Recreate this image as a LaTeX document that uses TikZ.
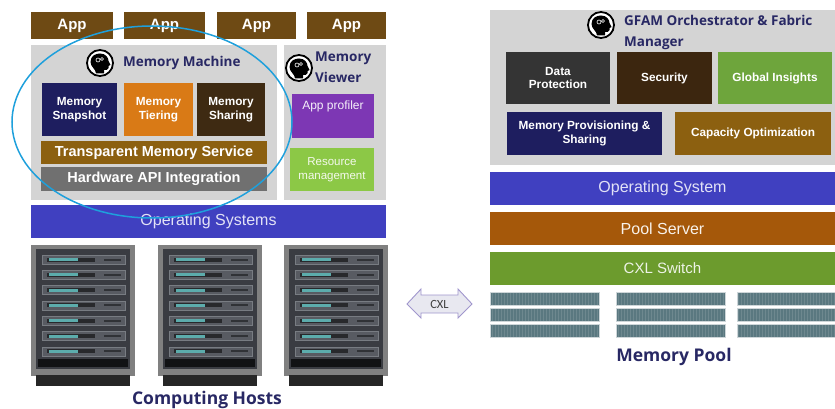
\documentclass[tikz,border=0pt]{standalone}
\usepackage{fontspec}
\setmainfont{Liberation Sans}
\newfontfamily\titlefont{Open Sans}
\newfontfamily\labelfont{Carlito}
\usetikzlibrary{calc,patterns}

\definecolor{appbrown}{RGB}{110,74,20}
\definecolor{panelgray}{RGB}{212,212,212}
\definecolor{navy}{RGB}{30,30,95}
\definecolor{tierorange}{RGB}{217,122,22}
\definecolor{sharebrown}{RGB}{62,42,18}
\definecolor{servbrown}{RGB}{140,96,16}
\definecolor{hwgray}{RGB}{112,112,112}
\definecolor{profpurple}{RGB}{125,55,180}
\definecolor{resgreen}{RGB}{140,200,70}
\definecolor{osblue}{RGB}{64,64,192}
\definecolor{ringblue}{RGB}{30,160,220}
\definecolor{titlenavy}{RGB}{40,40,100}
\definecolor{dpgray}{RGB}{52,52,52}
\definecolor{secbrown}{RGB}{60,38,15}
\definecolor{gigreen}{RGB}{110,165,60}
\definecolor{poolbrown}{RGB}{165,88,10}
\definecolor{switchgreen}{RGB}{108,155,45}
\definecolor{modteal}{RGB}{90,120,128}
\definecolor{rackgray}{RGB}{128,128,128}
\definecolor{rackdark}{RGB}{58,60,66}
\definecolor{slotgray}{RGB}{88,91,98}
\definecolor{slotline}{RGB}{120,124,130}
\definecolor{ledteal}{RGB}{92,172,172}

\begin{document}
\begin{tikzpicture}[x=1pt,y=-1pt,
  appbox/.style={fill=appbrown,text=white,inner sep=0,font=\fontsize{15}{15}\bfseries},
  tile/.style={text=white,inner sep=0,align=center,font=\fontsize{11.8}{13.5}\bfseries},
  bar/.style={inner sep=0,font=\fontsize{16}{16}\selectfont},
  title/.style={text=titlenavy,inner sep=0,font=\fontsize{13.5}{21}\titlefont\bfseries}]
\useasboundingbox (0,0) rectangle (835,409);
\fill[white] (0,0) rectangle (835,409);

% apps on top
\node[appbox,minimum width=82,minimum height=27] (app1) at (72,25.5) {App};
\node[appbox,minimum width=81,minimum height=27] (app2) at (164.5,25.5) {App};
\node[appbox,minimum width=79,minimum height=27] (app3) at (256.5,25.5) {App};
\node[appbox,minimum width=79,minimum height=27] (app4) at (346.5,25.5) {App};

% memory machine
\fill[panelgray] (31,45) rectangle (277,200);
\fill[panelgray] (284,45) rectangle (386,200);
\begin{scope}[shift={(100,63)}] %brain
  \draw[line width=1.8,fill=white] (0,0) circle (13);
  \fill[black] (-4,10.5) .. controls (-4,6) and (-9.5,4) .. (-9.5,-1) .. controls (-9.5,-7.5) and (-4,-9.5) .. (0,-9.5) .. controls (6,-9.5) and (8.5,-5) .. (8.5,-2) -- (10.5,2) -- (8.5,3) -- (8.5,5) .. controls (8.5,7) and (6,7) .. (4,7) -- (4,10.5) -- cycle;
  \draw[white,line width=0.6] (-2,-3) circle (2) (2,-4) circle (1.5);
\end{scope}
\node[title,anchor=west] (mm) at (123,63) {Memory Machine};
\node[tile,fill=navy,minimum width=75,minimum height=53] (snap) at (79.5,109.5) {Memory\\Snapshot};
\node[tile,fill=tierorange,minimum width=69,minimum height=53] (tier) at (158.5,109.5) {Memory\\Tiering};
\node[tile,fill=sharebrown,minimum width=68,minimum height=53] (share) at (231,109.5) {Memory\\Sharing};
\node[tile,fill=servbrown,minimum width=226,minimum height=23,font=\fontsize{14.5}{15}\bfseries] (tms) at (154,152.5) {Transparent Memory Service};
\node[tile,fill=hwgray,minimum width=226,minimum height=24,font=\fontsize{14.5}{15}\bfseries] (hw) at (154,179) {Hardware API Integration};

% memory viewer
\begin{scope}[shift={(299,68)}] %brain
  \draw[line width=1.8,fill=white] (0,0) circle (13);
  \fill[black] (-4,10.5) .. controls (-4,6) and (-9.5,4) .. (-9.5,-1) .. controls (-9.5,-7.5) and (-4,-9.5) .. (0,-9.5) .. controls (6,-9.5) and (8.5,-5) .. (8.5,-2) -- (10.5,2) -- (8.5,3) -- (8.5,5) .. controls (8.5,7) and (6,7) .. (4,7) -- (4,10.5) -- cycle;
  \draw[white,line width=0.6] (-2,-3) circle (2) (2,-4) circle (1.5);
\end{scope}
\node[title,anchor=west,align=left] (mv) at (315,67.5) {Memory\\Viewer};
\fill[profpurple] (292,94) rectangle (374,138);
\node[text=white!92!profpurple,inner sep=0,font=\fontsize{12}{12}\selectfont] (prof) at (333,106) {App profiler};
\node[fill=resgreen,text=white!90!resgreen,inner sep=0,align=center,minimum width=84,minimum height=43,font=\fontsize{11.5}{14}\selectfont] (res) at (332,169.5) {Resource\\management};

\node[bar,fill=osblue,text=white!85!osblue,minimum width=355,minimum height=33] (os) at (208.5,221.5) {Operating Systems};

% racks
\foreach \rx/\rn in {31/r1,158/r2,284/r3}{
\begin{scope}[shift={(\rx,245)}]
  \fill[rackgray] (0,0) rectangle (104,131);
  \fill[rackdark] (5,4) rectangle (99,124);
  \foreach \i in {0,...,6}{
    \draw[slotline,fill=slotgray,line width=0.6] (11,{10+15.3*\i}) rectangle (94,{19+15.3*\i});
    \fill[black!55!slotgray] (16,{12.5+15.3*\i}) rectangle (64,{16.5+15.3*\i});
    \fill[ledteal] (18,{13+15.3*\i}) rectangle (47,{16+15.3*\i});
    \fill[black!45!slotgray] (73,{13.5+15.3*\i}) rectangle (90,{15.5+15.3*\i});
  }
  \fill[black!70!rackdark] (7,114) rectangle (97,122);
  \fill[black!85] (5,130) rectangle (99,141);
  \coordinate (\rn) at (52,0);
\end{scope}
}
\node[title,font=\fontsize{17.5}{18}\titlefont\bfseries] (hosts) at (207,400) {Computing Hosts};

% cxl link
\draw[line width=0.9,draw={rgb,255:red,160;green,150;blue,205},fill={rgb,255:red,232;green,232;blue,240}]
  (407,304) -- (421,289) -- (421,295) -- (458,295) -- (458,289) -- (472,304) -- (458,318) -- (458,313) -- (421,313) -- (421,318) -- cycle;
\node[inner sep=0,text=black!75,font=\fontsize{12.5}{12}\labelfont] (cxl) at (439.5,304) {CXL};

% gfam orchestrator
\fill[panelgray] (490,10) rectangle (835,165);
\begin{scope}[shift={(601,25)}] %brain
  \draw[line width=1.8,fill=white] (0,0) circle (13);
  \fill[black] (-4,10.5) .. controls (-4,6) and (-9.5,4) .. (-9.5,-1) .. controls (-9.5,-7.5) and (-4,-9.5) .. (0,-9.5) .. controls (6,-9.5) and (8.5,-5) .. (8.5,-2) -- (10.5,2) -- (8.5,3) -- (8.5,5) .. controls (8.5,7) and (6,7) .. (4,7) -- (4,10.5) -- cycle;
  \draw[white,line width=0.6] (-2,-3) circle (2) (2,-4) circle (1.5);
\end{scope}
\node[title,anchor=west,align=left] (gfam) at (624,32.5) {GFAM Orchestrator \& Fabric\\Manager};
\node[tile,fill=dpgray,minimum width=104,minimum height=52] (dp) at (558,78) {Data\\Protection};
\node[tile,fill=secbrown,minimum width=95,minimum height=52] (sec) at (664.5,78) {Security};
\node[tile,fill=gigreen,minimum width=114,minimum height=52] (gi) at (775,78) {Global Insights};
\node[tile,fill=navy,minimum width=155,minimum height=43] (prov) at (584.5,133.5) {Memory Provisioning \&\\Sharing};
\node[tile,fill=servbrown,minimum width=156,minimum height=43] (cap) at (753,133.5) {Capacity Optimization};

% pool stack
\node[bar,fill=osblue,text=white!85!osblue,minimum width=345,minimum height=33] (pos) at (662.5,188.5) {Operating System};
\node[bar,fill=poolbrown,text=white!92!poolbrown,minimum width=345,minimum height=33] (pool) at (662.5,228.5) {Pool Server};
\node[bar,fill=switchgreen,text=white!88!switchgreen,minimum width=345,minimum height=33,font=\fontsize{15}{15}\selectfont] (sw) at (662.5,268.5) {CXL Switch};

% memory modules
\foreach \mx/\mw in {490/109,616/109,737/98}{
  \foreach \my in {292,308,324}{
    \fill[modteal] (\mx,\my) rectangle ++(\mw,13);
    \fill[pattern=vertical lines,pattern color=white!12!modteal] (\mx,\my) rectangle ++(\mw,13);
    \draw[white!70!modteal,line width=0.6] (\mx,\my) rectangle ++(\mw,13);
  }
}
\node[title,font=\fontsize{17.5}{18}\titlefont\bfseries] (mpool) at (674,357) {Memory Pool};

% highlight ring
\draw[ringblue,line width=1.5] (152,122) ellipse [x radius=140,y radius=96];
\end{tikzpicture}
\end{document}
